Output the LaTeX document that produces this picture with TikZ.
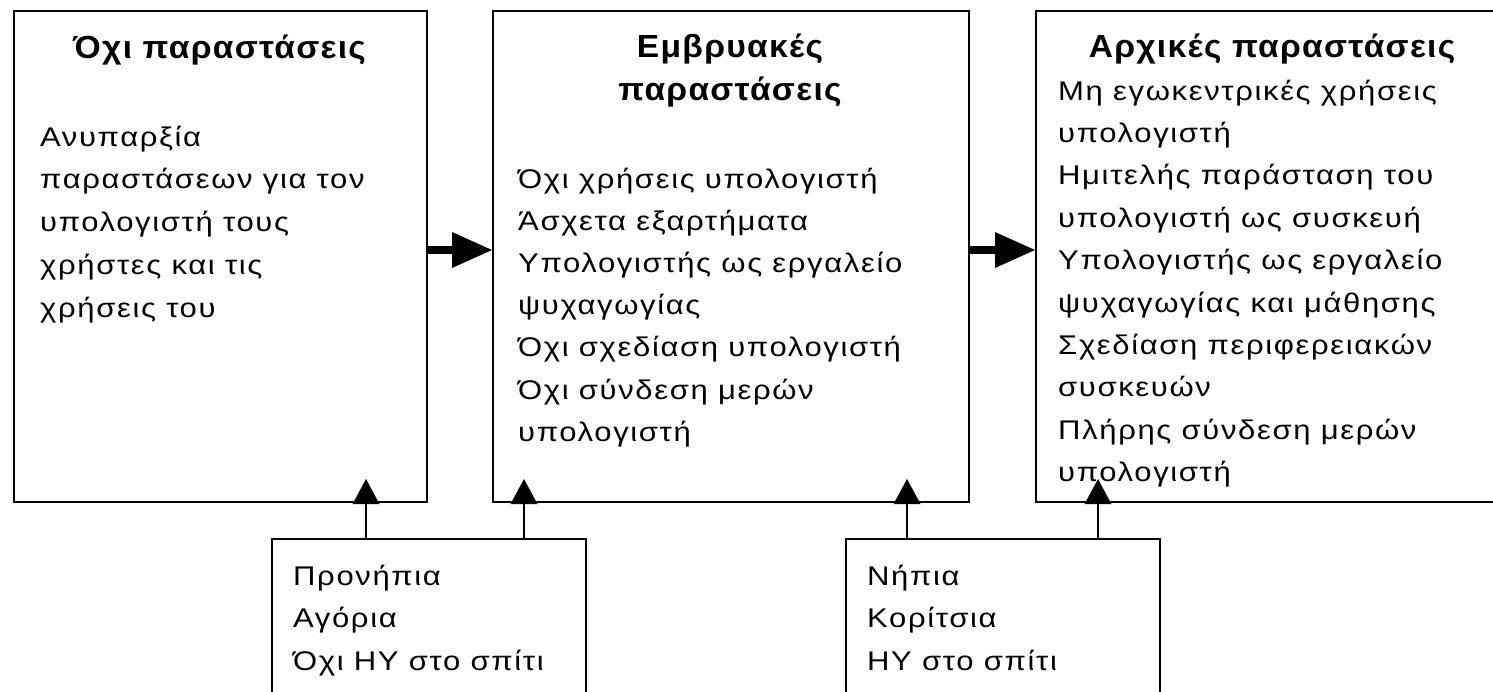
\documentclass[tikz,border=0pt]{standalone}
\usepackage{fontspec}
\usetikzlibrary{arrows.meta}
\newfontfamily\bodyfont[FakeStretch=1.15,LetterSpace=6]{Liberation Sans}
\newfontfamily\headfont[FakeStretch=1.05,LetterSpace=4]{Liberation Sans}
\begin{document}
\begin{tikzpicture}[x=1pt,y=-1pt,
  box/.style={draw, line width=2pt, rectangle, inner sep=0pt, anchor=north west},
  head/.style={font=\headfont\bfseries\fontsize{32}{43}\selectfont, inner sep=0pt, anchor=base},
  body/.style={font=\bodyfont\fontsize{27}{42}\selectfont, inner sep=0pt, anchor=base west},
  flow/.style={line width=8pt, -{Triangle[length=40pt,width=36pt,line width=0pt]}},
  feed/.style={line width=2pt, -{Triangle[length=25pt,width=27pt,line width=0pt]}, shorten >=-24pt}]
\useasboundingbox (0,0) rectangle (1493,691);
\clip (0,0) rectangle (1493,691);

% three stage boxes
\node[box, minimum width=413pt, minimum height=491pt] (b1) at (13,10) {};
\node[box, minimum width=476pt, minimum height=491pt] (b2) at (492,10) {};
\node[box, minimum width=474pt, minimum height=491pt] (b3) at (1035,10) {};

% factor boxes below
\node[box, minimum width=314pt, minimum height=190pt] (c1) at (271,538) {};
\node[box, minimum width=314pt, minimum height=190pt] (c2) at (845,538) {};

% headings
\node[head] (h1) at (219.5,58) {Όχι παραστάσεις};
\node[head] (h2a) at (730,57) {Εμβρυακές};
\node[head] (h2b) at (730,100) {παραστάσεις};
\node[head] (h3) at (1272,57) {Αρχικές παραστάσεις};

% body text
\foreach \t [count=\i] in {Ανυπαρξία, παραστάσεων για τον, υπολογιστή τους, χρήστες και τις, χρήσεις του}
  \node[body] (p\i) at (40,{146+(\i-1)*42.8}) {\t};
\foreach \t [count=\i] in {Όχι χρήσεις υπολογιστή, Άσχετα εξαρτήματα, Υπολογιστής ως εργαλείο, ψυχαγωγίας, Όχι σχεδίαση υπολογιστή, Όχι σύνδεση μερών, υπολογιστή}
  \node[body] (q\i) at (518,{188+(\i-1)*42.2}) {\t};
\foreach \t [count=\i] in {Μη εγωκεντρικές χρήσεις, υπολογιστή, Ημιτελής παράσταση του, υπολογιστή ως συσκευή, Υπολογιστής ως εργαλείο, ψυχαγωγίας και μάθησης, Σχεδίαση περιφερειακών, συσκευών, Πλήρης σύνδεση μερών, υπολογιστή}
  \node[body] (r\i) at (1058,{100+(\i-1)*42.4}) {\t};
\foreach \t [count=\i] in {Προνήπια, Αγόρια, Όχι ΗΥ στο σπίτι}
  \node[body] (s\i) at (293,{585+(\i-1)*42.5}) {\t};
\foreach \t [count=\i] in {Νήπια, Κορίτσια, ΗΥ στο σπίτι}
  \node[body] (u\i) at (867,{585+(\i-1)*42.5}) {\t};

% connectors
\coordinate (ay) at (0,250);
\coordinate (x1) at (366,0);
\coordinate (x2) at (524,0);
\coordinate (x3) at (907,0);
\coordinate (x4) at (1098,0);
\draw[flow] (b1.east |- ay) -- (b2.west |- ay);
\draw[flow] (b2.east |- ay) -- (b3.west |- ay);
\draw[feed] (c1.north -| x1) -- (b1.south -| x1);
\draw[feed] (c1.north -| x2) -- (b2.south -| x2);
\draw[feed] (c2.north -| x3) -- (b2.south -| x3);
\draw[feed] (c2.north -| x4) -- (b3.south -| x4);
\end{tikzpicture}
\end{document}
